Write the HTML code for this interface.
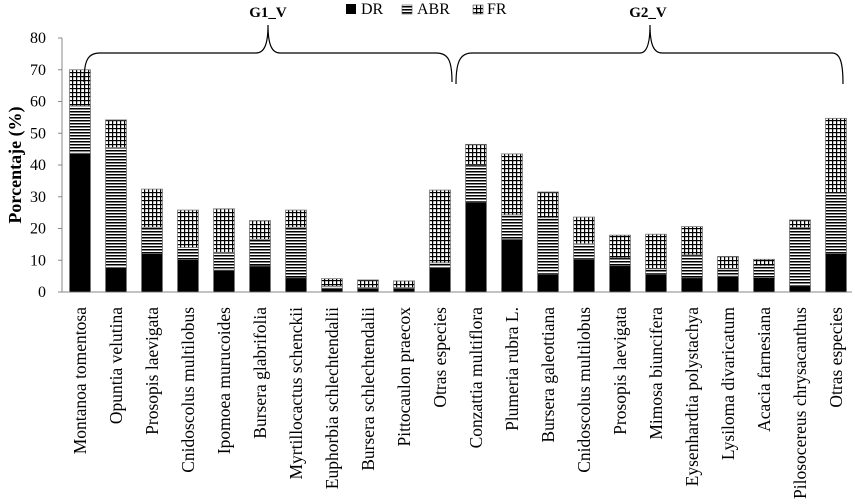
<!DOCTYPE html>
<html><head><meta charset="utf-8"><style>
body{margin:0;background:#fff}
svg{display:block;font-family:"Liberation Serif",serif}
</style></head><body>
<svg id="chart" width="855" height="503" viewBox="0 0 855 503">
<defs>
<pattern id="hlines" width="4" height="3" patternUnits="userSpaceOnUse"><rect width="4" height="3" fill="#fff"/><rect width="4" height="1.5" fill="#000"/></pattern>
<pattern id="grid" width="4" height="4" patternUnits="userSpaceOnUse"><rect width="4" height="4" fill="#fff"/><rect width="4" height="1.2" fill="#000"/><rect width="1.2" height="4" fill="#000"/></pattern>
</defs>
<g id="axes"></g>
<g id="bars"></g>
<g id="labels"></g>
<g>
<rect x="346" y="4" width="10" height="10" fill="#000"/>
<text x="361" y="14" font-size="16">DR</text>
<rect x="402" y="5" width="10" height="9" fill="url(#hlines)" stroke="#555" stroke-width="0.6"/>
<text x="417" y="14" font-size="16">ABR</text>
<rect x="473" y="5" width="10" height="9" fill="url(#grid)" stroke="#555" stroke-width="0.6"/>
<text x="487" y="14" font-size="16">FR</text>
</g>
<g fill="none" stroke="#000" stroke-width="1.2">
<path d="M84,82 C84,60 88,53 100,53 L256,53 C264,53 268,45 268,25 C268,45 272,53 280,53 L436,53 C448,53 452,60 452,82"/>
<path d="M456,84 C456,62 460,53 472,53 L640,53 C646,53 650,45 650,25 C650,45 654,53 662,53 L832,53 C840,53 843,62 843,84"/>
</g>
<text x="268" y="17" font-size="15" font-weight="bold" text-anchor="middle">G1_V</text>
<text x="648" y="17" font-size="15" font-weight="bold" text-anchor="middle">G2_V</text>
<text transform="translate(21,165) rotate(-90)" font-size="18" font-weight="bold" text-anchor="middle">Porcentaje  (%)</text>
</svg>
<script>
const categories=["Montanoa tomentosa","Opuntia velutina","Prosopis laevigata","Cnidoscolus multilobus","Ipomoea murucoides","Bursera glabrifolia","Myrtillocactus schenckii","Euphorbia schlechtendalii","Bursera schlechtendalii","Pittocaulon praecox","Otras especies","Conzattia multiflora","Plumeria rubra L.","Bursera galeottiana","Cnidoscolus multilobus","Prosopis laevigata","Mimosa biuncifera","Eysenhardtia polystachya","Lysiloma divaricatum","Acacia farnesiana","Pilosocereus chrysacanthus","Otras especies"];
const dr=[43.7,7.7,12.1,10.2,6.9,8.2,4.5,1.2,1.2,1.2,7.7,28.4,16.6,5.7,10.4,8.3,5.7,4.5,5.0,4.6,2.0,12.2];
const abr=[14.9,37.8,8.3,3.8,5.6,8.4,15.9,0.6,0.2,0.2,1.5,11.6,7.7,17.7,4.8,2.5,1.6,7.2,2.3,3.7,18.3,18.9];
const fr=[11.4,8.7,12.0,11.8,13.7,5.9,5.4,2.4,2.4,2.1,22.9,6.5,19.2,8.1,8.4,7.1,10.9,8.9,3.9,2.0,2.4,23.6];
const yTicks=[0,10,20,30,40,50,60,70,80];
const NS="http://www.w3.org/2000/svg";
const y0=292,yTop=38,yMax=80;
function yScale(v){return y0-(v/yMax)*(y0-yTop);}
function xScale(i){return 80+i*36;}
const bw=21;
function mk(tag,attrs,parent){const e=document.createElementNS(NS,tag);for(const k in attrs)e.setAttribute(k,attrs[k]);parent.appendChild(e);return e;}
const axes=document.getElementById('axes'),bars=document.getElementById('bars'),labels=document.getElementById('labels');
let l=mk('line',{x1:62,y1:yTop,x2:62,y2:y0,stroke:'#888'},axes);


l=mk('line',{x1:62,y1:y0,x2:852,y2:y0,stroke:'#888'},axes);


yTicks.forEach(t=>{
  const tk=mk('line',{x1:58,x2:62,y1:yScale(t),y2:yScale(t),stroke:'#888'},axes);
  
  
  const tx=mk('text',{x:46,y:yScale(t)+5,'font-size':16,'text-anchor':'end'},axes);
  tx.textContent=t;
  
  
});
categories.forEach((c,i)=>{
  const x=xScale(i)-bw/2;
  let base=0;
  [[dr,'#000','dr'],[abr,'url(#hlines)','abr'],[fr,'url(#grid)','fr']].forEach(([arr,fill,nm])=>{
    const v=arr[i];
    const r=mk('rect',{x:x,y:yScale(base+v),width:bw,height:yScale(base)-yScale(base+v),fill:fill,stroke:'#777','stroke-width':0.8},bars);
    
    
    base+=v;
  });
  const t=mk('text',{transform:`translate(${xScale(i)+6},307) rotate(-90)`,'font-size':17.5,'text-anchor':'end'},labels);
  t.textContent=c;
  
  
});
</script>
</body></html>
